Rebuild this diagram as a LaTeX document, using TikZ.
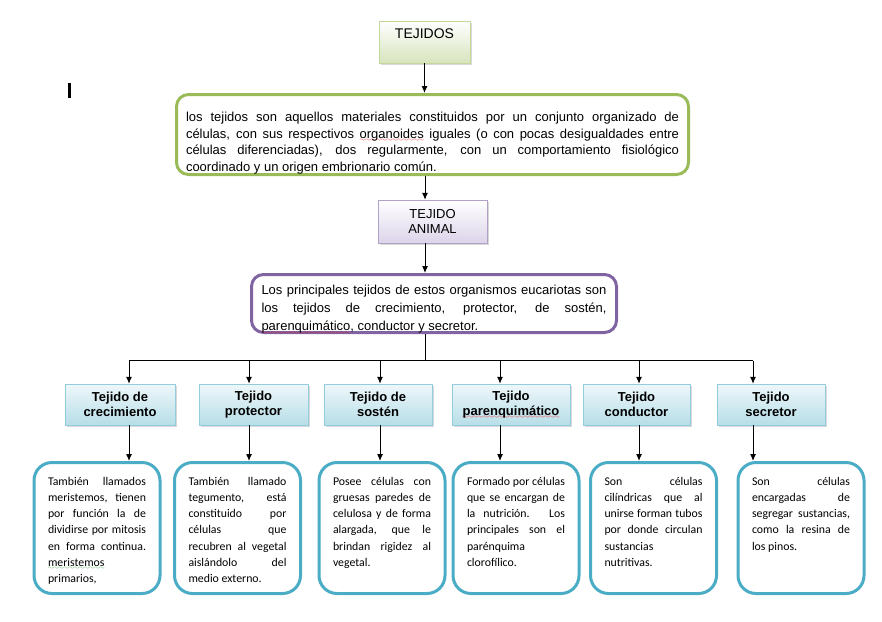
\documentclass[tikz,border=0pt]{standalone}
\usepackage{fontspec}
\setmainfont{Liberation Sans}
\newfontfamily\calibri{Carlito}
\usepackage{tikz}
\usetikzlibrary{arrows.meta,positioning,shadows}
\definecolor{verdeborde}{HTML}{9BBB59}
\definecolor{moradoborde}{HTML}{8064A2}
\definecolor{azulborde}{HTML}{4BACC6}
\definecolor{verdefondo}{HTML}{D7E4BD}
\definecolor{verdelinea}{HTML}{C3D69B}
\definecolor{moradofondo}{HTML}{DCD4EA}
\definecolor{moradolinea}{HTML}{B2A1C7}
\definecolor{azulclaro}{HTML}{EEF7FA}
\definecolor{azulfondo}{HTML}{B7DEE8}
\definecolor{azullinea}{HTML}{93CDDD}
\definecolor{verdeonda}{HTML}{2E9E2E}
\font\ondafont=lasy6
\newsavebox{\palabra}
\newcommand{\onda}[2]{\sbox{\palabra}{#2}\rlap{\raisebox{-3.5pt}[0pt][0pt]{\textcolor{#1}{\hbox to \wd\palabra{\xleaders\hbox{\ondafont\char58}\hfil}}}}\usebox{\palabra}}
\newcommand{\ondaroja}[1]{\onda{red}{#1}}
\newcommand{\ondaverde}[1]{\onda{verdeonda}{#1}}
\newcommand{\jl}[1]{\makebox[\linewidth][s]{#1}\\}
\newcommand{\caja}[4]{\begin{minipage}[c][#1][t]{#2}\vspace*{#3}#4\end{minipage}}
\tikzstyle{titulo} = [rectangle, inner sep=0pt, drop shadow={shadow xshift=1.5pt, shadow yshift=-1.5pt, opacity=.3}]
\tikzstyle{marco} = [rectangle, rounded corners=12pt, line width=3pt, fill=white, inner sep=0pt]
\tikzstyle{tejido} = [rectangle, draw=azullinea, top color=azulclaro, bottom color=azulfondo,
    inner sep=0pt, minimum height=41pt, align=center, font=\bfseries\fontsize{13}{15}\selectfont,
    drop shadow={shadow xshift=1.5pt, shadow yshift=-1.5pt, opacity=.3}]
\tikzstyle{nota} = [rectangle, rounded corners=18pt, draw=azulborde, line width=3pt, fill=white,
    inner sep=0pt, minimum width=126pt, minimum height=131pt, font=\calibri\fontsize{11.8}{16.2}\selectfont]
\tikzstyle{line} = [draw, -{Latex[length=7pt,width=6pt]}, line width=1pt]

\begin{document}
\begin{tikzpicture}[x=1pt, y=-1pt]
    \useasboundingbox (0,0) rectangle (882,621);
    % Place nodes
    \node [titulo, draw=verdelinea, top color=white, bottom color=verdefondo, minimum width=91pt,
        minimum height=42pt, font=\fontsize{14}{16}\selectfont, text height=9.4pt, text depth=16.4pt] (tejidos) at (424.5,42) {TEJIDOS};
    \node [fill=black, minimum width=2.5pt, minimum height=15pt, inner sep=0pt] (cursor) at (69.3,90.5) {};
    \node [marco, draw=verdeborde, minimum width=512pt, minimum height=80pt, font=\fontsize{13}{16.5}\selectfont] (def) at (432.5,134.5)
        {\caja{80pt}{493pt}{18pt}{\jl{los tejidos son aquellos materiales constituidos por un conjunto organizado de}
        \jl{células, con sus respectivos \ondaroja{organoides} iguales (o con pocas desigualdades entre}
        \jl{células diferenciadas), dos regularmente, con un comportamiento fisiológico}
        coordinado y un origen embrionario común.}};
    \node [titulo, draw=moradolinea, top color=white, bottom color=moradofondo, minimum width=109pt,
        minimum height=43pt, align=center, font=\fontsize{13}{15}\selectfont] (animal) at (432.5,221.5) {TEJIDO\\ANIMAL};
    \node [marco, draw=moradoborde, minimum width=365pt, minimum height=58pt, font=\fontsize{13}{18}\selectfont] (tipos) at (434,303.5)
        {\caja{58pt}{345pt}{11pt}{\jl{Los principales tejidos de estos organismos eucariotas son}
        \jl{los tejidos de crecimiento, protector, de sostén,}
        \ondaroja{parenquimático}, conductor y secretor.}};

    \node [tejido, minimum width=110pt] (t1) at (120,404.5) {Tejido de\\crecimiento};
    \node [tejido, minimum width=109pt] (t2) at (253.5,404.5) {Tejido\\protector};
    \node [tejido, minimum width=108pt] (t3) at (378,404.5) {Tejido de\\sostén};
    \node [tejido, minimum width=118pt] (t4) at (511,404.5) {Tejido\\\ondaroja{parenquimático}};
    \node [tejido, minimum width=107pt] (t5) at (636.5,404.5) {Tejido\\conductor};
    \node [tejido, minimum width=108pt] (t6) at (771,404.5) {Tejido\\secretor};

    \node [nota] (d1) at (97,528) {\caja{131pt}{98pt}{14.5pt}{\jl{También llamados}
        \jl{meristemos, tienen}\jl{por función la de}\jl{dividirse por mitosis}\jl{en forma continua.}
        \ondaverde{meristemos}\\ primarios,}};
    \node [nota] (d2) at (237.5,528) {\caja{131pt}{98pt}{14.5pt}{\jl{También llamado}
        \jl{tegumento, está}\jl{constituido por}\jl{células que}\jl{recubren al vegetal}\jl{aislándolo del}
        medio externo.}};
    \node [nota] (d3) at (382,528) {\caja{131pt}{98pt}{14.5pt}{\jl{Posee células con}
        \jl{gruesas paredes de}\jl{celulosa y de forma}\jl{alargada, que le}\jl{brindan rigidez al}
        vegetal.}};
    \node [nota] (d4) at (516,528) {\caja{131pt}{98pt}{14.5pt}{\jl{Formado por células}
        \jl{que se encargan de}\jl{la nutrición. Los}\jl{principales son el}
        parénquima\\ clorofílico.}};
    \node [nota] (d5) at (653.5,528) {\caja{131pt}{98pt}{14.5pt}{\jl{Son células}
        \jl{cilíndricas que al}\jl{unirse forman tubos}\jl{por donde circulan}
        sustancias\\ nutritivas.}};
    \node [nota] (d6) at (801,528) {\caja{131pt}{98pt}{14.5pt}{\jl{Son células}
        \jl{encargadas de}\jl{segregar sustancias,}\jl{como la resina de}
        los pinos.}};

    % bus
    \coordinate (eje) at (425,360.5);
    \coordinate (a1) at (129,360.5);
    \coordinate (a2) at (249,360.5);
    \coordinate (a3) at (380,360.5);
    \coordinate (a4) at (500,360.5);
    \coordinate (a5) at (639,360.5);
    \coordinate (a6) at (753,360.5);

    \draw [line] (tejidos.south) -- (tejidos.south |- def.north);
    \draw [line] (eje |- def.south) -- (eje |- animal.north);
    \draw [line] (eje |- animal.south) -- (eje |- tipos.north);
    \draw [line width=1pt] (eje |- tipos.south) -- (eje);
    \draw [line width=1pt] (a1) -- (a6);
    \draw [line] (a1) -- (a1 |- t1.north);
    \draw [line] (a2) -- (a2 |- t2.north);
    \draw [line] (a3) -- (a3 |- t3.north);
    \draw [line] (a4) -- (a4 |- t4.north);
    \draw [line] (a5) -- (a5 |- t5.north);
    \draw [line] (a6) -- (a6 |- t6.north);
    \draw [line] (a1 |- t1.south) -- (a1 |- d1.north);
    \draw [line] (a2 |- t2.south) -- (a2 |- d2.north);
    \draw [line] (a3 |- t3.south) -- (a3 |- d3.north);
    \draw [line] (a4 |- t4.south) -- (a4 |- d4.north);
    \draw [line] (a5 |- t5.south) -- (a5 |- d5.north);
    \draw [line] (a6 |- t6.south) -- (a6 |- d6.north);
\end{tikzpicture}
\end{document}
